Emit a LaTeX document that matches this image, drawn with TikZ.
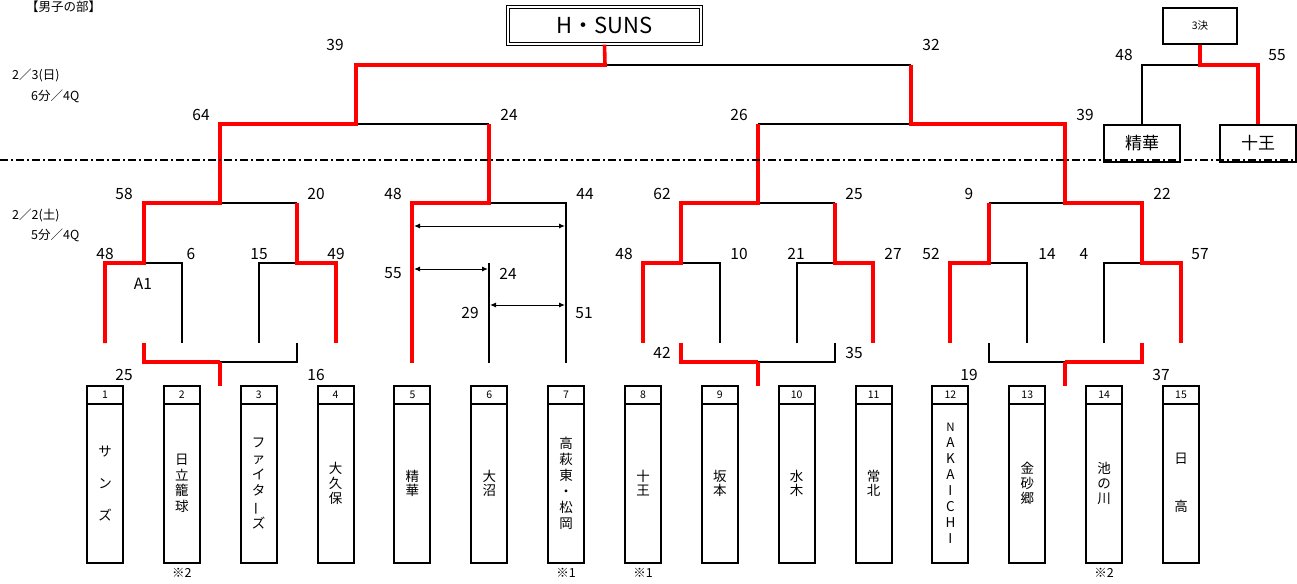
\documentclass[tikz,border=0pt]{standalone}
\usepackage{fontspec}
\setmainfont{Noto Sans CJK JP}
\usepackage{graphicx}
\usetikzlibrary{arrows.meta}
\definecolor{bred}{RGB}{255,0,0}
\tikzset{
  redl/.style={draw=bred, line width=3.6pt, line join=miter},
  blkl/.style={draw=black, line width=2pt, line join=miter},
  score/.style={font=\fontsize{15.5}{15.5}\selectfont, inner sep=0pt},
  note/.style={font=\fontsize{12.5}{12.5}\selectfont, inner sep=0pt},
  teamhead/.style={draw, line width=2pt, minimum width=36pt, minimum height=17.5pt, inner sep=0pt, font=\fontsize{10.5}{10.5}\selectfont},
  teambody/.style={draw, line width=2pt, minimum width=36pt, minimum height=159.5pt, inner sep=0pt, align=center},
  finbox/.style={draw, line width=2pt, minimum width=76pt, minimum height=37pt, inner sep=0pt, font=\fontsize{17}{17}\selectfont},
  dimarrow/.style={{Latex[length=6pt,width=5pt]}-{Latex[length=6pt,width=5pt]}, line width=1pt},
  dashdotline/.style={line width=1.3pt, dash pattern=on 8pt off 3pt on 2pt off 3pt}
}
\begin{document}
\begin{tikzpicture}[x=1pt,y=-1pt]
\useasboundingbox (0,0) rectangle (1297,583);

% header texts
\node[note, anchor=west] (title) at (26,7) {【男子の部】};
\node[note, anchor=west] (day3) at (12,75) {2／3(日)};
\node[note, anchor=west] (time3) at (31,96) {6分／4Q};
\node[note, anchor=west] (day2) at (12,215) {2／2(土)};
\node[note, anchor=west] (time2) at (31,235) {5分／4Q};

% champion box
\node[draw, double, double distance=1.5pt, line width=1.2pt, minimum width=193pt, minimum height=37pt, inner sep=0pt,
      font=\fontsize{22}{22}\selectfont] (champ) at (604.5,25.5) {H・SUNS};
% third place
\node[draw, line width=2pt, minimum width=74pt, minimum height=36pt, inner sep=0pt, font=\fontsize{10.5}{10.5}\selectfont] (third) at (1200,26) {3決};
\node[finbox] (tpA) at (1142,143.5) {精華};
\node[finbox] (tpB) at (1258,143.5) {十王};

% black bracket lines
\draw[blkl] (605,65) -- (911,65);
\draw[blkl] (356,124) -- (489,124);
\draw[blkl] (758,124) -- (911,124);
\draw[blkl] (220,203) -- (297,203);
\draw[blkl] (489,203) -- (566,203) -- (566,363);
\draw[blkl] (758,203) -- (835,203);
\draw[blkl] (989,203) -- (1065,203);
\draw[blkl] (144,263) -- (182,263) -- (182,343);
\draw[blkl] (259,343) -- (259,263) -- (297,263);
\draw[blkl] (489,263) -- (489,363);
\draw[blkl] (681,263) -- (720,263) -- (720,343);
\draw[blkl] (797,343) -- (797,263) -- (835,263);
\draw[blkl] (989,263) -- (1027,263) -- (1027,343);
\draw[blkl] (1104,343) -- (1104,263) -- (1142,263);
\draw[blkl] (220,362) -- (297,362) -- (297,343);
\draw[blkl] (758,362) -- (835,362) -- (835,343);
\draw[blkl] (989,343) -- (989,362) -- (1065,362);
\draw[blkl] (tpA.north) -- (1142,65) -- (1200,65);

% red bracket lines
\draw[redl] (champ.south) -- (605,65) -- (356,65) -- (356,124) -- (220,124) -- (220,203) -- (144,203) -- (144,263) -- (105,263) -- (105,343);
\draw[redl] (297,203) -- (297,263) -- (336,263) -- (336,343);
\draw[redl] (489,124) -- (489,203) -- (412,203) -- (412,363);
\draw[redl] (911,65) -- (911,124) -- (1065,124) -- (1065,203) -- (1142,203) -- (1142,263) -- (1181,263) -- (1181,343);
\draw[redl] (758,124) -- (758,203) -- (681,203) -- (681,263) -- (643,263) -- (643,343);
\draw[redl] (835,203) -- (835,263) -- (873,263) -- (873,343);
\draw[redl] (989,203) -- (989,263) -- (950,263) -- (950,343);
\draw[redl] (144,343) -- (144,362) -- (220,362);
\draw[redl] (220,362) -- (220,386);
\draw[redl] (681,343) -- (681,362) -- (758,362);
\draw[redl] (758,362) -- (758,386);
\draw[redl] (1142,343) -- (1142,362) -- (1065,362);
\draw[redl] (1065,362) -- (1065,386);
\draw[redl] (third.south) -- (1200,65) -- (1258,65) -- (tpB.north);

% arrows in the 5-6-7 group
\draw[dimarrow] (414,226) -- (565,226);
\draw[dimarrow] (414,269) -- (488,269);
\draw[dimarrow] (490,305) -- (565,305);

% dash-dot separator
\draw[dashdotline] (0,160) -- (1297,160);

% scores
\foreach \t/\x/\y [count=\k] in {39/335/45, 32/931/45, 48/1124/55, 55/1277/55,
  64/201/115, 24/509/115, 26/739/115, 39/1085/115,
  58/124/194, 20/316/194, 48/393/194, 44/585/194, 62/662/194, 25/854/194, 9/969/194, 22/1162/194,
  48/105/254, 6/191/254, 15/259/254, 49/336/254, 48/624/254, 10/739/254, 21/796/254, 27/893/254,
  52/931/254, 14/1047/254, 4/1084/254, 57/1200/254,
  55/393/273, 24/508/274, 29/470/313, 51/584/313, A1/143/284,
  42/662/353, 35/854/353, 25/124/375, 16/316/375, 19/969/375, 37/1161/375}
  \node[score] (sc\k) at (\x,\y) {\t};

% team boxes
\foreach \nm/\bs [count=\i] in {
  {サ\\ン\\ズ}/32,
  {日\\立\\籠\\球}/15.7,
  {フ\\ァ\\イ\\タ\\\rotatebox[origin=c]{90}{ー}\\ズ}/16.2,
  {大\\久\\保}/15.2,
  {精\\華}/14.5,
  {大\\沼}/14.5,
  {高\\萩\\東\\・\\松\\岡}/16,
  {十\\王}/14.5,
  {坂\\本}/14.5,
  {水\\木}/14.5,
  {常\\北}/14.5,
  {\fontsize{11.5}{15.9}\selectfont N\\A\\K\\A\\I\\C\\H\\I}/15.9,
  {金\\砂\\郷}/15.2,
  {池\\の\\川}/15.2,
  {日\\高}/48}
{
  \pgfmathsetmacro{\cx}{105+76.857*(\i-1)}
  \node[teamhead] (h\i) at (\cx,394.75) {\i};
  \node[teambody, font={\fontsize{13.5}{\bs}\selectfont\lineskiplimit=-20pt}] (t\i) at (\cx,483.25) {\nm};
}

% notes under boxes
\node[note] (n2) at (h2.south |- 0,573) {※2};
\node[note] (n7) at (h7.south |- 0,573) {※1};
\node[note] (n8) at (h8.south |- 0,573) {※1};
\node[note] (n14) at (h14.south |- 0,573) {※2};
\end{tikzpicture}
\end{document}
